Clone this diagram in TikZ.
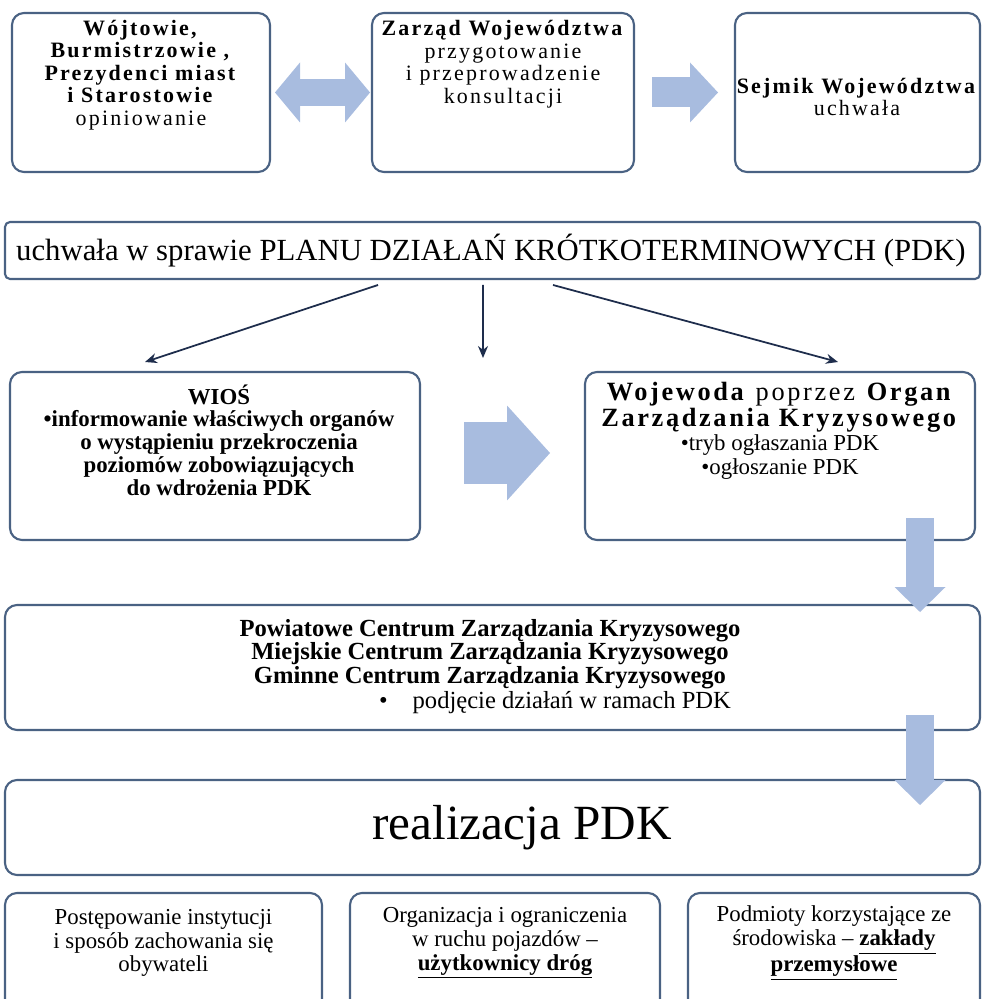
\documentclass[tikz,border=0pt]{standalone}
\usepackage{fontspec}
\setmainfont{Liberation Serif}
\newfontfamily\spacedfont[LetterSpace=10]{Liberation Serif}
\usepackage{xcolor}
\usetikzlibrary{arrows.meta,calc}
\definecolor{boxline}{HTML}{4A6283}
\definecolor{arrowfill}{HTML}{A8BCDF}
\definecolor{thinline}{HTML}{1E2D4C}
\newcommand{\topfont}{\spacedfont\fontsize{12.5}{12.8}\selectfont}
\newcommand{\lowfont}{\fontsize{13}{13}\selectfont}
\newcommand{\subfont}{\rmfamily\mdseries\fontsize{13}{13.6}\selectfont}

\begin{document}
\begin{tikzpicture}[x=0.02cm,y=-0.02cm,
  box/.style={draw=boxline,line width=1.2pt,fill=white,rounded corners=0.24cm,inner sep=0pt,outer sep=0pt},
  txt/.style={align=center,inner sep=0pt},
  thinarr/.style={draw=thinline,line width=1pt,-{Stealth[length=0.24cm,width=0.2cm]}},
  dblarr/.style={draw=arrowfill,line width=0.54cm,
    {Triangle[length=0.5cm,width=1.2cm,line width=0pt]}-{Triangle[length=0.5cm,width=1.2cm,line width=0pt]}},
  toparr/.style={draw=arrowfill,line width=0.6cm,-{Triangle[length=0.56cm,width=1.2cm,line width=0pt]}},
  bigarr/.style={draw=arrowfill,line width=1.24cm,-{Triangle[length=0.86cm,width=1.9cm,line width=0pt]}},
  downarr/.style={draw=arrowfill,line width=0.56cm,-{Triangle[length=0.5cm,width=1.02cm,line width=0pt]}}]
\useasboundingbox (0,0) rectangle (984,999);
\clip (0,0) rectangle (984,999);

% first row
\node[box,minimum width=258*0.02cm,minimum height=159*0.02cm] (wojt) at (141,92.5) {};
\node[box,minimum width=262*0.02cm,minimum height=159*0.02cm] (zarzad) at (503,92.5) {};
\node[box,minimum width=245*0.02cm,minimum height=159*0.02cm] (sejmik) at (857.5,92.5) {};
\node[txt,font=\topfont] (wojtT) at (141,75) {\textbf{Wójtowie,}\\\textbf{Burmistrzowie ,}\\\textbf{Prezydenci miast}\\\textbf{i Starostowie}\\opiniowanie};
\node[txt,font=\topfont] (zarzadT) at (503,64) {\textbf{Zarząd Województwa}\\przygotowanie\\i przeprowadzenie\\konsultacji};
\node[txt,font=\topfont] (sejmikT) at (857,97) {\textbf{Sejmik Województwa}\\uchwała};
\draw[dblarr] ([xshift=0.1cm]wojt.east) -- ([xshift=-0.04cm]zarzad.west);
\draw[toparr] ([xshift=0.36cm]zarzad.east) -- ([xshift=-0.34cm]sejmik.west);

% uchwala
\node[box,rounded corners=0.1cm,minimum width=975*0.02cm,minimum height=57*0.02cm] (uchw) at (492.5,250.5) {};
\node[txt,font=\fontsize{17.5}{18}\selectfont] (uchwT) at (491,251) {uchwała w sprawie PLANU DZIAŁAŃ KRÓTKOTERMINOWYCH (PDK)};

% second row
\node[box,minimum width=410*0.02cm,minimum height=168*0.02cm] (wios) at (215,456) {};
\node[box,minimum width=390*0.02cm,minimum height=168*0.02cm] (wojewoda) at (780,456) {};
\node[txt,font=\lowfont\bfseries] (wiosT) at (219,440) {WIOŚ\\•informowanie właściwych organów\\o wystąpieniu przekroczenia\\poziomów zobowiązujących\\do wdrożenia PDK};
\node[txt,font=\spacedfont\fontsize{15}{13.6}\selectfont] (wojewodaT) at (780,431) {\textbf{Wojewoda} poprzez \textbf{Organ}\\\textbf{Zarządzania Kryzysowego}\\\subfont •tryb ogłaszania PDK\\\subfont •ogłoszanie PDK};
\coordinate (mid) at (483,358);
\draw[thinarr] ([xshift=-2.29cm,yshift=-0.12cm]uchw.south) -- ([xshift=-1.4cm,yshift=0.2cm]wios.north);
\draw[thinarr] ([xshift=-0.19cm,yshift=-0.12cm]uchw.south) -- (mid);
\draw[thinarr] ([xshift=1.21cm,yshift=-0.12cm]uchw.south) -- ([xshift=1.16cm,yshift=0.2cm]wojewoda.north);
\draw[bigarr] ([xshift=0.88cm,yshift=0.06cm]wios.east) -- ([xshift=-0.7cm,yshift=0.06cm]wojewoda.west);

% centra
\node[box,minimum width=975*0.02cm,minimum height=125*0.02cm] (pczk) at (492.5,667.5) {};
\node[txt,font=\fontsize{14}{13.2}\selectfont\bfseries] (pczkT) at (490,654) {Powiatowe Centrum Zarządzania Kryzysowego\\Miejskie Centrum Zarządzania Kryzysowego\\Gminne Centrum Zarządzania Kryzysowego};
\node[txt,font=\fontsize{14}{13.2}\selectfont] (pczkB) at (555,703) {•\hspace{0.5cm}podjęcie działań w ramach PDK};

% realizacja
\node[box,minimum width=975*0.02cm,minimum height=95*0.02cm] (real) at (492.5,827.5) {};
\node[txt,font=\fontsize{28}{30}\selectfont] (realT) at (522,828) {realizacja PDK};

\coordinate (dn) at (920,0);
\draw[downarr] ($(dn |- wojewoda.south)+(0,-22)$) -- ($(dn |- pczk.north)+(0,7)$);
\draw[downarr] ($(dn |- pczk.south)+(0,-15)$) -- ($(dn |- real.north)+(0,25)$);

% bottom row
\node[box,minimum width=317*0.02cm,minimum height=120*0.02cm] (instyt) at (163.5,953) {};
\node[box,minimum width=310*0.02cm,minimum height=120*0.02cm] (ruch) at (505,953) {};
\node[box,minimum width=292*0.02cm,minimum height=120*0.02cm] (zaklady) at (834,953) {};
\node[txt,font=\fontsize{13}{13.5}\selectfont] (instytT) at (163.5,943) {Postępowanie instytucji\\i sposób zachowania się\\obywateli};
\node[txt,font=\fontsize{13}{13.5}\selectfont] (ruchT) at (505,943) {Organizacja i ograniczenia\\w ruchu pojazdów --\\\underline{\textbf{użytkownicy dróg}}};
\node[txt,font=\fontsize{13}{13.5}\selectfont] (zakladyT) at (834,943) {Podmioty korzystające ze\\środowiska -- \underline{\textbf{zakłady}}\\\underline{\textbf{przemysłowe}}};
\end{tikzpicture}
\end{document}
